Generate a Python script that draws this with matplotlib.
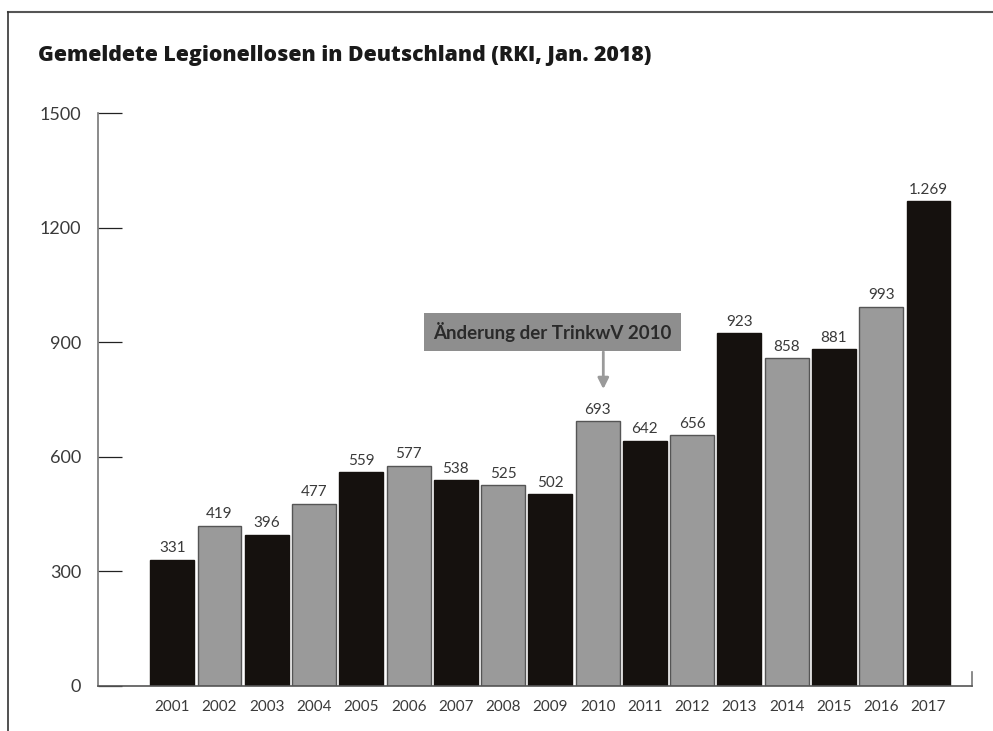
import matplotlib
matplotlib.use("Agg")
import matplotlib.pyplot as plt
from matplotlib.lines import Line2D

years = ["2001", "2002", "2003", "2004", "2005", "2006", "2007", "2008", "2009",
         "2010", "2011", "2012", "2013", "2014", "2015", "2016", "2017"]
cases = [331, 419, 396, 477, 559, 577, 538, 525, 502, 693, 642, 656, 923, 858, 881, 993, 1269]
bar_colors = ["#15110e", "#9a9a9a", "#15110e", "#9a9a9a", "#15110e", "#9a9a9a", "#15110e",
              "#9a9a9a", "#15110e", "#9a9a9a", "#15110e", "#9a9a9a", "#15110e", "#9a9a9a",
              "#15110e", "#9a9a9a", "#15110e"]
yticks = [0, 300, 600, 900, 1200, 1500]
title = "Gemeldete Legionellosen in Deutschland (RKI, Jan. 2018)"
note = "Änderung der TrinkwV 2010"

plt.rcParams['font.family'] = ['Lato', 'DejaVu Sans']

fig = plt.figure(figsize=(9.93, 7.31), dpi=100)
ax = fig.add_axes([98/993, 45/731, (972-98)/993, (686-113)/731])

x = list(range(len(years)))
edges = ["#15110e" if c == "#15110e" else "#555555" for c in bar_colors]
ax.bar(x, cases, width=0.93, color=bar_colors, edgecolor=edges, linewidth=1.0)

ax.set_xlim(-1.57, 16.92)
ax.set_ylim(0, 1500)
ax.set_yticks(yticks)
ax.set_yticklabels([str(v) for v in yticks], fontsize=13, color="#3a3a3a")
ax.tick_params(axis='y', direction='in', length=17.5, width=0.9, color="#222222", pad=12)
ax.set_xticks(x)
ax.set_xticklabels(years, fontsize=11, color="#3a3a3a")
ax.tick_params(axis='x', length=0, pad=10)

for s in ["top", "right"]:
    ax.spines[s].set_visible(False)
ax.spines["left"].set_color("#777777")
ax.spines["left"].set_linewidth(1.2)
ax.spines["bottom"].set_color("#555555")
ax.spines["bottom"].set_linewidth(1.2)
# small end tick at right of x axis
ax.plot([1, 1], [0, 0.025], transform=ax.transAxes, color="#777777", lw=1.2, clip_on=False)

for xi, v in zip(x, cases):
    lab = f"{v:,}".replace(",", ".")
    ax.text(xi, v + 12, lab, ha="center", va="bottom", fontsize=11, color="#3a3a3a")

ax.annotate("", xy=(9.12, 770), xytext=(9.12, 882),
            arrowprops=dict(arrowstyle='-|>', color="#9a9a9a", lw=2, mutation_scale=16))
ax.text(8.04, 927, note, ha="center", va="center", fontsize=13.5, fontweight="bold",
        color="#2a2a2a",
        bbox=dict(boxstyle="square,pad=0.5", fc="#8e8e8e", ec="none"))

fig.text(38/993, 1 - 55/731, title, fontsize=15.3, fontweight=800, color="#1a1a1a",
         ha="left", va="center", family=["Open Sans", "DejaVu Sans"])

fig.add_artist(Line2D([8/993, 1], [1 - 12/731, 1 - 12/731], color="#555555", lw=1.5,
                      transform=fig.transFigure))
fig.add_artist(Line2D([8/993, 8/993], [0, 1 - 12/731], color="#333333", lw=1.2,
                      transform=fig.transFigure))

fig.savefig("out.png", dpi=100)
